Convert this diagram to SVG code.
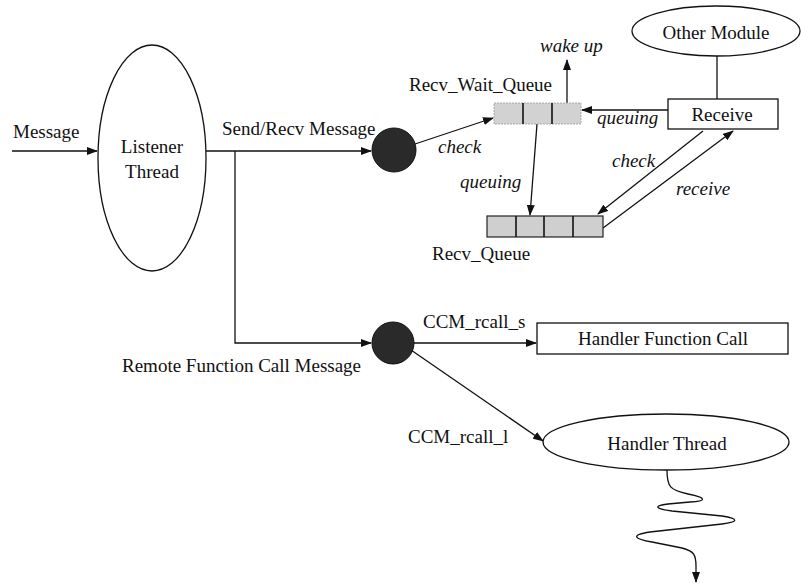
<svg xmlns="http://www.w3.org/2000/svg" width="801" height="586" viewBox="0 0 801 586">
<style>
text{font-family:"Liberation Serif","Times New Roman",serif;font-size:19px;fill:#111}
.it{font-style:italic}
.mid{text-anchor:middle}
.ln{stroke:#111;stroke-width:1.3;fill:none}
.shape{fill:#fff;stroke:#111;stroke-width:1.3}
.dot{fill:#2a2a2a;stroke:#111;stroke-width:1}
.cell{fill:#cfcfcf;stroke:#222;stroke-width:1.2}
.cellw{fill:#d2d2d2;stroke:#999;stroke-width:0.8;stroke-dasharray:2 1}
.div{stroke:#111;stroke-width:1.6}
</style>
<defs>
<marker id="ah" markerWidth="11" markerHeight="8" refX="10" refY="4" orient="auto" markerUnits="userSpaceOnUse">
<path d="M0,0 L11,4 L0,8 z" fill="#111"/>
</marker>
</defs>
<g id="connectors">
<line class="ln" x1="12" y1="151" x2="97" y2="151" marker-end="url(#ah)"/>
<line class="ln" x1="206" y1="151" x2="371" y2="151" marker-end="url(#ah)"/>
<polyline class="ln" points="235,151 235,343 371,343" marker-end="url(#ah)"/>
<line class="ln" x1="415" y1="144" x2="493" y2="118" marker-end="url(#ah)"/>
<line class="ln" x1="567" y1="103" x2="567" y2="60" marker-end="url(#ah)"/>
<line class="ln" x1="717" y1="56" x2="717" y2="99"/>
<line class="ln" x1="668" y1="110" x2="582" y2="110" marker-end="url(#ah)"/>
<line class="ln" x1="537" y1="124" x2="530" y2="215" marker-end="url(#ah)"/>
<line class="ln" x1="703" y1="131" x2="598" y2="214" marker-end="url(#ah)"/>
<line class="ln" x1="603" y1="228" x2="733" y2="131" marker-end="url(#ah)"/>
<line class="ln" x1="414" y1="343" x2="536" y2="343" marker-end="url(#ah)"/>
<line class="ln" x1="411" y1="350" x2="543" y2="441" marker-end="url(#ah)"/>
<path class="ln" d="M667,470 C667,487 670,490 688,494 C708,498 706,501 690,502 L668,504 C652,506 656,509 672,511 L722,516 C740,519 738,522 722,524 L650,532 C630,535 634,539 652,542 L682,548 C694,551 696,555 696,566 L696,582" marker-end="url(#ah)"/>
</g>
<g id="labels">
<text x="13" y="138">Message</text>
<text x="222" y="135">Send/Recv Message</text>
<text x="122" y="372">Remote Function Call Message</text>
<text class="it" x="438" y="153">check</text>
<text x="409" y="91">Recv_Wait_Queue</text>
<text class="it" x="540" y="52">wake up</text>
<text class="it" x="597" y="124">queuing</text>
<text class="it" x="460" y="188">queuing</text>
<text x="432" y="260">Recv_Queue</text>
<text class="it" x="612" y="167">check</text>
<text class="it" x="676" y="195">receive</text>
<text x="423" y="328">CCM_rcall_s</text>
<text x="408" y="443">CCM_rcall_l</text>
</g>
<g id="listener">
<ellipse class="shape" cx="152" cy="158" rx="54" ry="113"/>
<text class="mid" x="152" y="153">Listener</text>
<text class="mid" x="152" y="178">Thread</text>
</g>
<g id="dispatch1"><circle class="dot" cx="394" cy="150" r="22"/></g>
<g id="dispatch2"><circle class="dot" cx="393" cy="343" r="21"/></g>
<g id="recv_wait_queue">
<rect class="cellw" x="494" y="103" width="87" height="21"/>
<line class="div" x1="523" y1="103" x2="523" y2="124"/>
<line class="div" x1="552" y1="103" x2="552" y2="124"/>
</g>
<g id="recv_queue">
<rect class="cell" x="487" y="216" width="116" height="21"/>
<line class="div" x1="516" y1="216" x2="516" y2="237"/>
<line class="div" x1="544" y1="216" x2="544" y2="237"/>
<line class="div" x1="573" y1="216" x2="573" y2="237"/>
</g>
<g id="other_module">
<ellipse class="shape" cx="716" cy="31" rx="84" ry="25"/>
<text class="mid" x="716" y="39">Other Module</text>
</g>
<g id="receive">
<rect class="shape" x="668" y="99" width="110" height="30"/>
<text class="mid" x="722" y="121">Receive</text>
</g>
<g id="handler_function_call">
<rect class="shape" x="537" y="323" width="251" height="31"/>
<text class="mid" x="663" y="345">Handler Function Call</text>
</g>
<g id="handler_thread">
<ellipse class="shape" cx="666" cy="442" rx="123" ry="28"/>
<text class="mid" x="667" y="450">Handler Thread</text>
</g>
</svg>
